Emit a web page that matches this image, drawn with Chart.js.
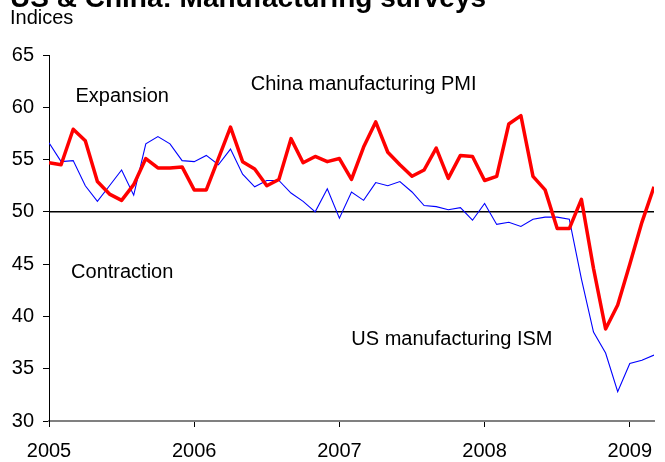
<!DOCTYPE html>
<html>
<head>
<meta charset="utf-8">
<script src="https://cdn.jsdelivr.net/npm/chart.js@4/dist/chart.umd.min.js"></script>
<style>
  html, body { margin: 0; padding: 0; background: #fff; }
  #wrap { width: 665px; height: 462px; position: relative; }
</style>
</head>
<body>
<div id="wrap"><canvas id="surveys"></canvas></div>
<script>
// Monthly survey readings, Jan 2005 - Mar 2009
const years = ['2005', '2006', '2007', '2008', '2009'];

const chinaPmi = [
  54.7, 54.5, 57.9, 56.8, 52.9, 51.7, 51.1, 52.6, 55.1, 54.2, 54.2, 54.3,
  52.1, 52.1, 55.1, 58.1, 54.8, 54.1, 52.5, 53.1, 57.0, 54.7, 55.3, 54.8,
  55.1, 53.1, 56.2, 58.6, 55.7, 54.5, 53.4, 54.0, 56.1, 53.2, 55.4, 55.3,
  53.0, 53.4, 58.4, 59.2, 53.4, 52.1, 48.4, 48.4, 51.2, 44.6, 38.8, 41.1,
  45.0, 49.0, 52.4
];

const usIsm = [
  56.6, 54.8, 54.9, 52.5, 51.0, 52.5, 54.0, 51.6, 56.5, 57.2, 56.5, 54.9,
  54.8, 55.4, 54.5, 56.0, 53.6, 52.4, 53.0, 53.0, 51.8, 51.0, 50.0, 52.2,
  49.4, 51.9, 51.1, 52.8, 52.5, 52.9, 51.9, 50.6, 50.5, 50.2, 50.4, 49.2,
  50.8, 48.8, 49.0, 48.6, 49.3, 49.5, 49.5, 49.3, 43.6, 38.5, 36.5, 32.8,
  35.5, 35.8, 36.3
];

const threshold = 50;

const FONT = "'Liberation Sans', Arial, sans-serif";

const toPoints = arr => arr.map((v, i) => ({ x: i, y: v }));
const lastIdx = chinaPmi.length - 1;

// free-floating captions, placed in data units
const captions = [
  { text: 'Expansion', x: 6.05, y: 61.0 },
  { text: 'China manufacturing PMI', x: 26, y: 62.2 },
  { text: 'Contraction', x: 6.05, y: 44.2 },
  { text: 'US manufacturing ISM', x: 33.3, y: 37.8 }
];

const textPlugin = {
  id: 'textPlugin',
  afterDraw(chart) {
    const { ctx, scales } = chart;
    ctx.save();
    ctx.fillStyle = '#000';

    // heading sits mostly above the canvas edge
    ctx.font = 'bold 28px ' + FONT;
    ctx.textAlign = 'left';
    ctx.textBaseline = 'alphabetic';
    ctx.fillText('US & China: Manufacturing surveys', 10, 7);

    ctx.font = '20px ' + FONT;
    ctx.fillText('Indices', 10, 24);

    ctx.textAlign = 'center';
    ctx.textBaseline = 'middle';
    captions.forEach(c => {
      ctx.fillText(c.text, scales.x.getPixelForValue(c.x), scales.y.getPixelForValue(c.y));
    });
    ctx.restore();
  }
};

new Chart(document.getElementById('surveys'), {
  type: 'line',
  data: {
    datasets: [
      {
        label: 'China manufacturing PMI',
        data: toPoints(chinaPmi),
        borderColor: '#ff0000',
        borderWidth: 3.5,
        pointRadius: 0,
        tension: 0,
        borderJoinStyle: 'round'
      },
      {
        label: 'US manufacturing ISM',
        data: toPoints(usIsm),
        borderColor: '#0000ff',
        borderWidth: 1.1,
        pointRadius: 0,
        tension: 0
      },
      {
        label: 'Threshold',
        data: [{ x: 0, y: threshold }, { x: lastIdx, y: threshold }],
        borderColor: '#000000',
        borderWidth: 1.5,
        pointRadius: 0
      }
    ]
  },
  options: {
    responsive: true,
    maintainAspectRatio: false,
    animation: false,
    layout: { padding: { left: 0, right: 11, top: 55, bottom: 0 } },
    plugins: {
      legend: { display: false },
      tooltip: { enabled: false }
    },
    scales: {
      x: {
        type: 'linear',
        min: 0,
        max: lastIdx,
        afterBuildTicks: scale => {
          scale.ticks = years.map((y, i) => ({ value: i * 12 }));
        },
        afterFit: scale => { scale.height = 41; },
        ticks: {
          color: '#000',
          font: { family: FONT, size: 20 },
          padding: 12,
          maxRotation: 0,
          callback: v => years[v / 12]
        },
        grid: {
          drawOnChartArea: false,
          drawTicks: true,
          tickLength: 6,
          color: '#000'
        },
        border: { color: '#808080', width: 2 }
      },
      y: {
        min: 30,
        max: 65,
        afterFit: scale => { scale.width = 49; },
        ticks: {
          stepSize: 5,
          color: '#000',
          font: { family: FONT, size: 20 },
          padding: 9
        },
        grid: {
          drawOnChartArea: false,
          drawTicks: true,
          tickLength: 6,
          color: '#000'
        },
        border: { color: '#000', width: 1 }
      }
    }
  },
  plugins: [textPlugin]
});
</script>
</body>
</html>
